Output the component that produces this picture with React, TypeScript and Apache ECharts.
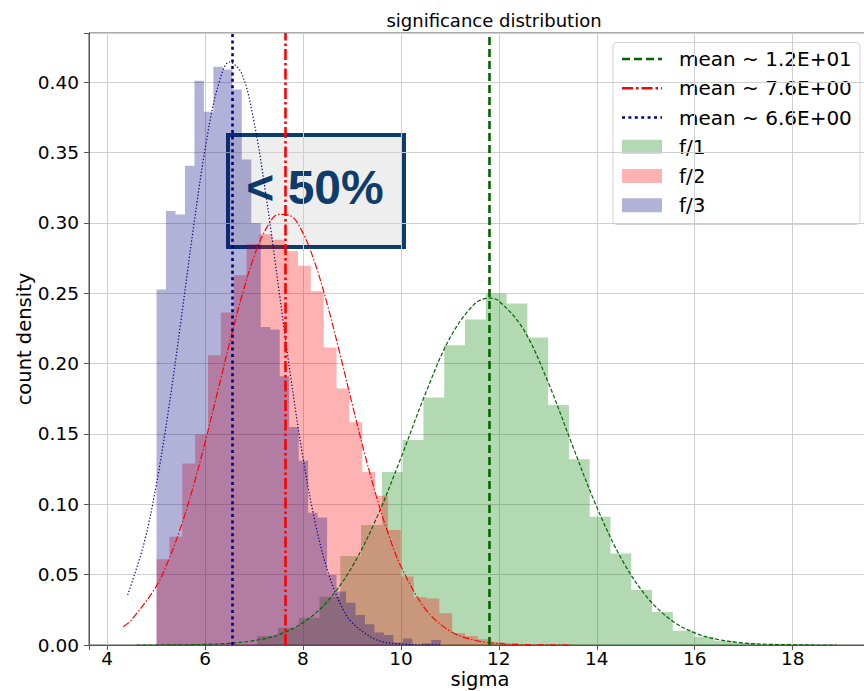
import React, { useEffect, useRef } from "react";
import * as echarts from "echarts";

// axis extents
const X_MIN = 3.63;
const X_MAX = 19.6;
const Y_MAX = 0.435;

// histogram f/1: first bin edge, bin width, density per bin
const f1Start = 7.0635;
const f1Width = 0.4245;
const f1Density = [
  0.0064, 0.0123, 0.0194, 0.0343, 0.0632, 0.0853, 0.123, 0.1457, 0.176, 0.2131,
  0.2314, 0.2499, 0.2428, 0.2186, 0.1705, 0.132, 0.0912, 0.0651, 0.0391, 0.0234,
  0.0102, 0.0059, 0.003, 0.0015,
];

// histogram f/2
const f2Start = 5.01;
const f2Width = 0.2625;
const f2Density = [
  0.061, 0.077, 0.129, 0.1497, 0.206, 0.2364, 0.2629, 0.285, 0.292, 0.288,
  0.28, 0.2695, 0.2515, 0.2115, 0.1824, 0.1584, 0.123, 0.106, 0.0817, 0.0486,
  0.034, 0.033, 0.0225, 0.0083, 0.0064, 0.004, 0.002, 0.001,
];

// histogram f/3
const f3Start = 5.009;
const f3Width = 0.1935;
const f3Density = [
  0.2527, 0.3084, 0.306, 0.3406, 0.401, 0.379, 0.411, 0.409, 0.3948, 0.345,
  0.3, 0.226, 0.2243, 0.191, 0.155, 0.131, 0.094, 0.0907, 0.05, 0.038,
  0.03, 0.0213, 0.0147, 0.0088, 0.0071, 0.0017, 0.0047, 0.0, 0.001, 0.0036,
];

// fitted density curves
const fit1X = [4.6, 5.0, 5.5, 6.0, 6.5, 7.0, 7.5, 8.0, 8.5, 9.0, 9.5, 10.0, 10.5, 11.0, 11.5, 11.8, 12.0, 12.5, 13.0, 13.5, 14.0, 14.5, 15.0, 15.5, 16.0, 16.5, 17.0, 17.5, 18.0, 18.5, 18.9];
const fit1Y = [0.0, 0.0, 0.0001, 0.0004, 0.0012, 0.0031, 0.0073, 0.0158, 0.031, 0.0554, 0.09, 0.133, 0.1786, 0.2182, 0.2423, 0.2465, 0.2446, 0.2245, 0.1873, 0.1421, 0.098, 0.0615, 0.0351, 0.0182, 0.0086, 0.0037, 0.0014, 0.0005, 0.0002, 0.0, 0.0];

const fit2X = [4.33, 4.5, 5.0, 5.25, 5.5, 5.75, 6.0, 6.25, 6.5, 6.75, 7.0, 7.25, 7.5, 7.75, 8.0, 8.25, 8.5, 8.75, 9.0, 9.25, 9.5, 9.75, 10.0, 10.5, 11.0, 11.5, 12.0, 12.5, 13.0, 13.5];
const fit2Y = [0.013, 0.0179, 0.0415, 0.0599, 0.0833, 0.1115, 0.144, 0.179, 0.2146, 0.2479, 0.276, 0.2961, 0.3061, 0.305, 0.2928, 0.2709, 0.2416, 0.2076, 0.1719, 0.1372, 0.1055, 0.0782, 0.0559, 0.0255, 0.01, 0.0034, 0.001, 0.0003, 0.0001, 0.0];

const fit3X = [4.42, 4.75, 5.0, 5.25, 5.5, 5.75, 6.0, 6.25, 6.5, 6.75, 7.0, 7.25, 7.5, 7.75, 8.0, 8.25, 8.5, 8.75, 9.0, 9.5, 10.0, 10.5, 10.8];
const fit3Y = [0.0356, 0.0718, 0.113, 0.1662, 0.2285, 0.2934, 0.3523, 0.3953, 0.4144, 0.4061, 0.3719, 0.3183, 0.2546, 0.1903, 0.133, 0.0868, 0.053, 0.0302, 0.0161, 0.0037, 0.0007, 0.0001, 0.0];

// sample means
const means = [11.8, 7.645, 6.56];
const meanLabels = ["mean ~ 1.2E+01", "mean ~ 7.6E+00", "mean ~ 6.6E+00"];
const histLabels = ["f/1", "f/2", "f/3"];

const LINE_COLORS = ["#006400", "#ff0000", "#000080"];
const FILL_COLORS = ["rgba(0,128,0,0.3)", "rgba(255,0,0,0.3)", "rgba(0,0,128,0.3)"];
const MEAN_DASH = [[8, 4], [11, 3, 2.5, 3], [3, 3.4]];
const FIT_DASH = [[4, 2], [7, 2, 1.5, 2], [1.3, 2]];
const FONT = "DejaVu Sans";

function stepPoints(start: number, width: number, dens: number[]) {
  const pts = dens.map((h, i) => [start + i * width, h]);
  pts.push([start + dens.length * width, dens[dens.length - 1]]);
  return pts;
}

function zip(xs: number[], ys: number[]) {
  return xs.map((x, i) => [x, ys[i]]);
}

function histSeries(name: string, idx: number, start: number, width: number, dens: number[]) {
  return {
    name,
    type: "line",
    step: "end",
    data: stepPoints(start, width, dens),
    symbol: "none",
    silent: true,
    lineStyle: { width: 0, opacity: 0 },
    areaStyle: { color: FILL_COLORS[idx], opacity: 1 },
    z: 2,
  };
}

function fitSeries(name: string, idx: number, xs: number[], ys: number[]) {
  return {
    name,
    type: "line",
    data: zip(xs, ys),
    smooth: 0.35,
    symbol: "none",
    silent: true,
    lineStyle: { color: LINE_COLORS[idx], width: 1.2, type: FIT_DASH[idx] },
    markLine: {
      silent: true,
      symbol: ["none", "none"],
      label: { show: false },
      lineStyle: { color: LINE_COLORS[idx], width: 2.6, type: MEAN_DASH[idx] },
      data: [{ xAxis: means[idx] }],
    },
    z: 3,
  };
}

function legendGraphic() {
  const x0 = 613;
  const y0 = 42.5;
  const rowY = [59, 88.3, 117.5, 146.8, 176, 205.3];
  const children: any[] = [
    {
      type: "rect",
      shape: { x: x0, y: y0, width: 247, height: 182, r: 4 },
      style: { fill: "rgba(255,255,255,0.85)", stroke: "#d3d3d3", lineWidth: 1 },
    },
  ];
  for (let i = 0; i < 3; i++) {
    children.push({
      type: "line",
      shape: { x1: 622, y1: rowY[i], x2: 662, y2: rowY[i] },
      style: { stroke: LINE_COLORS[i], lineWidth: 2.6, lineDash: MEAN_DASH[i] },
    });
    children.push({
      type: "text",
      x: 679,
      y: rowY[i],
      style: { text: meanLabels[i], fill: "#000", fontSize: 20, fontFamily: FONT, verticalAlign: "middle", align: "left" },
    });
  }
  for (let i = 0; i < 3; i++) {
    children.push({
      type: "rect",
      shape: { x: 622, y: rowY[i + 3] - 7, width: 40, height: 14 },
      style: { fill: FILL_COLORS[i] },
    });
    children.push({
      type: "text",
      x: 679,
      y: rowY[i + 3],
      style: { text: histLabels[i], fill: "#000", fontSize: 20, fontFamily: FONT, verticalAlign: "middle", align: "left" },
    });
  }
  return { type: "group", z: 100, silent: true, children };
}

export default function App() {
  const ref = useRef<HTMLDivElement>(null);

  useEffect(() => {
    if (!ref.current) return;
    const chart = echarts.init(ref.current, null, { renderer: "svg" });
    const axisColor = "#555";
    const gridColor = "#cfcfcf";

    const option: any = {
      animation: false,
      backgroundColor: "#ffffff",
      textStyle: { fontFamily: FONT },
      grid: {
        left: 89,
        right: -7,
        top: 33,
        bottom: 46,
        containLabel: false,
        outerBoundsMode: "none",
        show: true,
        borderColor: axisColor,
        borderWidth: 1,
      },
      xAxis: {
        type: "value",
        min: X_MIN,
        max: X_MAX,
        splitNumber: 8,
        name: "sigma",
        nameLocation: "middle",
        nameGap: 24,
        nameMoveOverlap: false,
        nameTextStyle: { fontSize: 19.5, color: "#000", fontFamily: FONT },
        axisLine: { show: true, onZero: false, lineStyle: { color: axisColor, width: 1 } },
        axisTick: { show: true, length: 5, lineStyle: { color: axisColor } },
        axisLabel: {
          fontSize: 18.5,
          color: "#000",
          margin: 4,
          fontFamily: FONT,
          formatter: (v: number) =>
            Math.abs(v - Math.round(v)) < 1e-6 && Math.round(v) % 2 === 0 ? String(Math.round(v)) : "",
        },
        splitLine: { show: true, lineStyle: { color: gridColor, width: 1 } },
      },
      yAxis: {
        type: "value",
        min: 0,
        max: Y_MAX,
        splitNumber: 9,
        name: "count density",
        nameLocation: "middle",
        nameGap: 55,
        nameMoveOverlap: false,
        nameTextStyle: { fontSize: 19.5, color: "#000", fontFamily: FONT },
        axisLine: { show: true, lineStyle: { color: axisColor, width: 1 } },
        axisTick: { show: true, length: 5, lineStyle: { color: axisColor } },
        axisLabel: {
          fontSize: 18.5,
          color: "#000",
          margin: 10,
          fontFamily: FONT,
          formatter: (v: number) =>
            Math.abs(v / 0.05 - Math.round(v / 0.05)) < 1e-6 ? v.toFixed(2) : "",
        },
        splitLine: { show: true, lineStyle: { color: gridColor, width: 1 } },
      },
      graphic: {
        elements: [
          {
            type: "text",
            x: 494,
            y: 20,
            z: 100,
            silent: true,
            style: {
              text: "significance distribution",
              fill: "#000",
              fontSize: 18,
              fontFamily: FONT,
              align: "center",
              verticalAlign: "middle",
            },
          },
          legendGraphic(),
          {
            type: "group",
            z: 100,
            silent: true,
            children: [
              {
                type: "rect",
                shape: { x: 228, y: 135, width: 176, height: 112 },
                style: { fill: "#eeeeee", stroke: "#0f3d6b", lineWidth: 4 },
              },
              {
                type: "text",
                x: 315,
                y: 187,
                style: {
                  text: "< 50%",
                  fill: "#0f3d6b",
                  fontSize: 48,
                  fontWeight: "bold",
                  fontFamily: "Liberation Sans",
                  align: "center",
                  verticalAlign: "middle",
                },
              },
            ],
          },
        ],
      },
      series: [
        histSeries("f/1", 0, f1Start, f1Width, f1Density),
        histSeries("f/2", 1, f2Start, f2Width, f2Density),
        histSeries("f/3", 2, f3Start, f3Width, f3Density),
        fitSeries(meanLabels[0], 0, fit1X, fit1Y),
        fitSeries(meanLabels[1], 1, fit2X, fit2Y),
        fitSeries(meanLabels[2], 2, fit3X, fit3Y),
      ],
    };

    chart.setOption(option);
    return () => chart.dispose();
  }, []);

  return <div ref={ref} style={{ width: 864, height: 691, position: "absolute", left: 0, top: 0 }} />;
}
